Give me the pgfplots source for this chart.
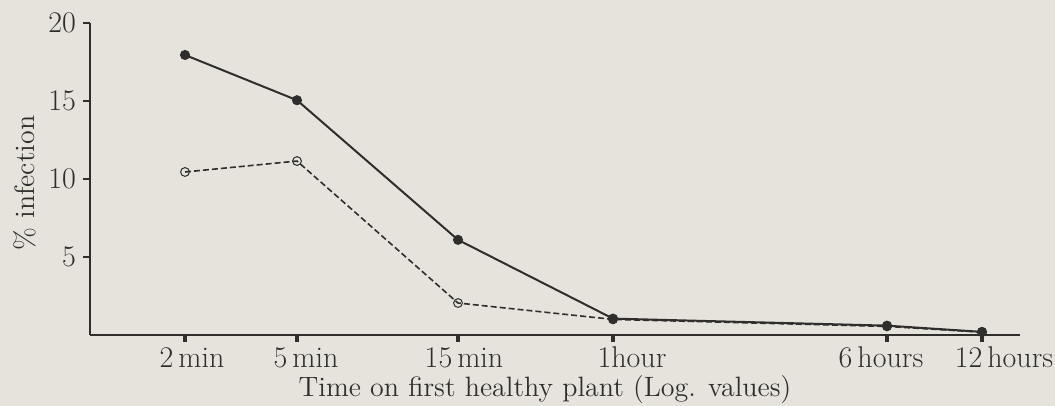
\documentclass[border=0pt]{standalone}
\usepackage{pgfplots}
\pgfplotsset{compat=1.18}
\definecolor{bg}{RGB}{229,227,220}
\definecolor{ink}{RGB}{48,46,44}
\begin{document}
\begin{tikzpicture}
\fill[bg] (0,0) rectangle (527.5pt,203pt);
\useasboundingbox (0,0) rectangle (527.5pt,203pt);
\begin{axis}[
  at={(45pt,35.5pt)}, anchor=south west,
  scale only axis, width=465pt, height=156pt,
  xmin=90, xmax=1020, ymin=0, ymax=20,
  axis lines=left,
  axis line style={-, ink, line width=1pt},
  xtick pos=bottom, ytick pos=left,
  xtick={185,297,458,613,887,982},
  xticklabels={\hspace*{7pt}2\,min,\hspace*{9pt}5\,min,\hspace*{6pt}15\,min,\hspace*{19pt}1hour,6\,hours\hspace*{6pt},\hspace*{22pt}12\,hours},
  ytick={5,10,15,20},
  tick align=outside,
  major tick length=3.5pt,
  every tick/.style={ink, line width=1.1pt},
  xtick style={ink, line width=1.6pt},
  xticklabel style={font=\fontsize{15}{18}\selectfont, text=ink, anchor=base, yshift=-13pt},
  yticklabel style={font=\fontsize{15}{18}\selectfont, text=ink},
  /pgf/number format/assume math mode=true,
  clip=false,
]
\addplot[ink, line width=1pt, mark=*, mark size=2pt, mark options={solid, fill=ink}]
  coordinates {(185,17.95) (297,15.05) (458,6.1) (613,1.05) (887,0.6) (982,0.2)};
\addplot[ink, line width=0.8pt, dash pattern=on 3pt off 1.5pt, mark=o, mark size=2.2pt, mark options={solid, fill=bg, line width=0.5pt}]
  coordinates {(185,10.45) (297,11.15) (458,2.05) (613,1.0) (887,0.55) (982,0.18)};
\addplot[only marks, ink, mark=*, mark size=0.9pt]
  coordinates {(613,1.05) (887,0.6) (982,0.2)};
\end{axis}
\node[rotate=90, text=ink, font=\fontsize{14}{17}\selectfont] at (12.5pt,111.5pt) {\% infection};
\node[anchor=base, text=ink, font=\fontsize{14}{17}\selectfont] at (272.5pt,4.5pt) {Time on first healthy plant (Log. values)};
\end{tikzpicture}
\end{document}
